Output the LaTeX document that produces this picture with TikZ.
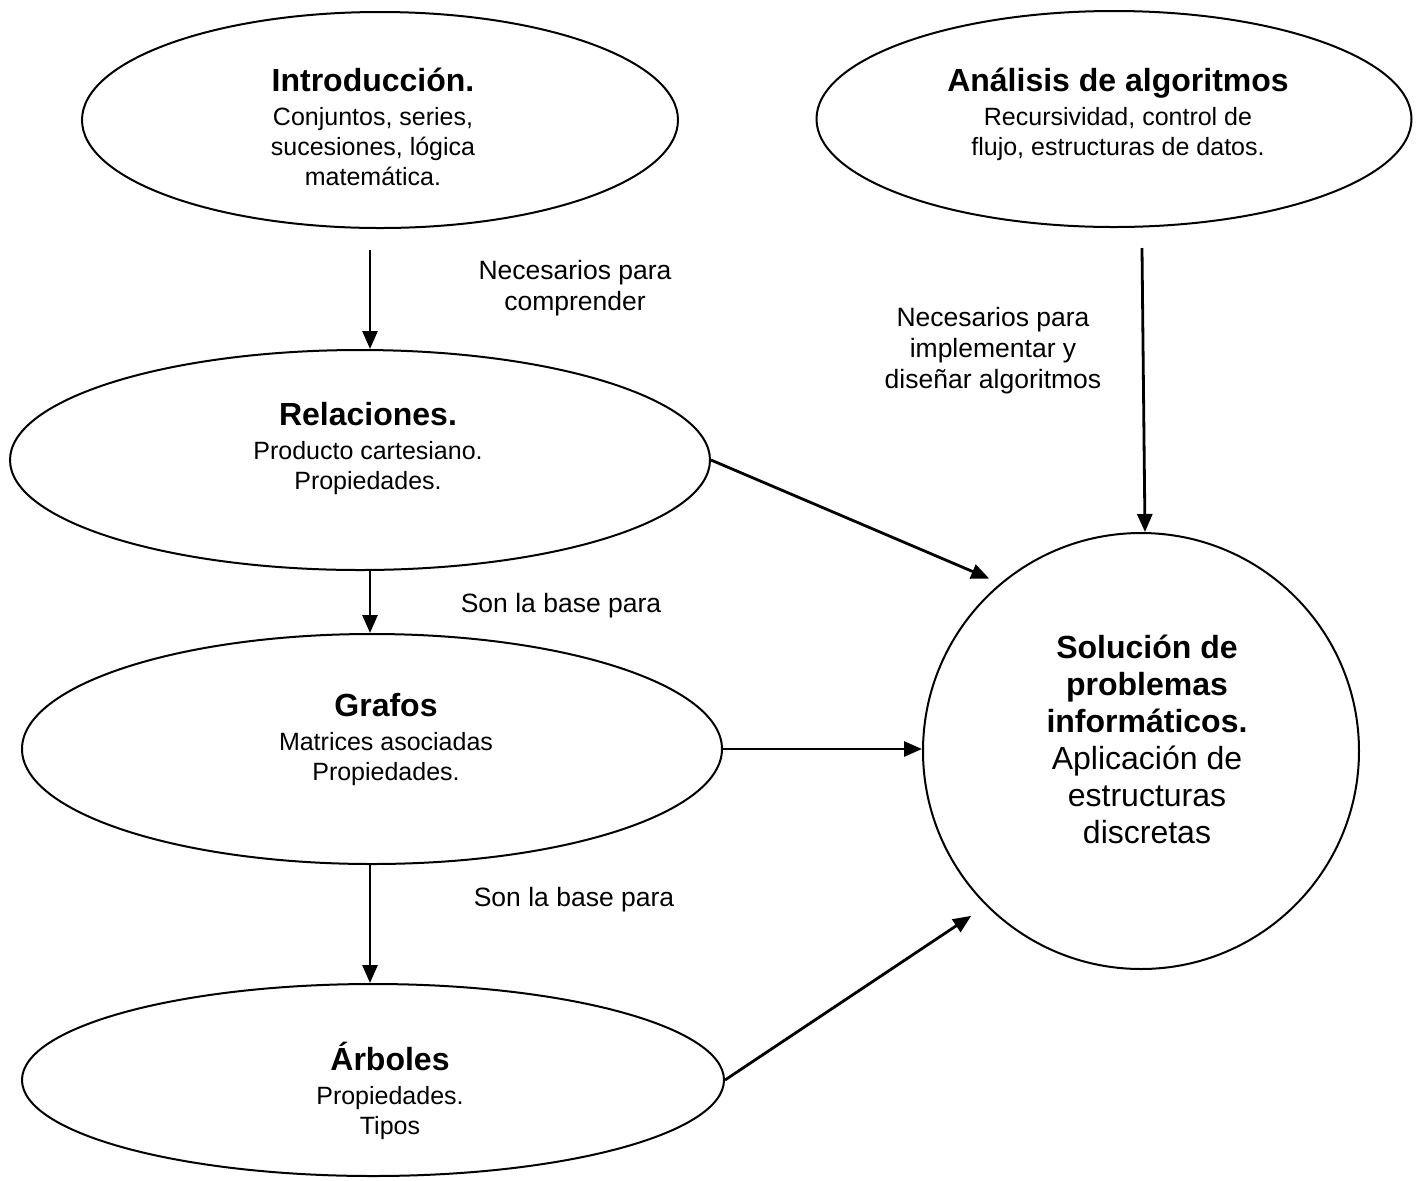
\documentclass[tikz,border=0pt]{standalone}
\usepackage{fontspec}
\setmainfont{Liberation Sans}
\usetikzlibrary{arrows.meta,shapes.geometric}
\newcommand\ttlfont[1]{{\fontsize{16pt}{18pt}\selectfont\bfseries #1}}
\begin{document}
\begin{tikzpicture}[x=0.5pt,y=-0.5pt,
  oval/.style={draw, line width=1pt, ellipse, inner sep=0pt},
  body/.style={align=center, inner sep=0pt, font=\fontsize{12.5pt}{15pt}\selectfont},
  lbl/.style={align=center, inner sep=0pt, font=\fontsize{13.25pt}{15.5pt}\selectfont},
  big/.style={align=center, inner sep=0pt, font=\fontsize{16pt}{18.5pt}\selectfont},
  arr/.style={line width=1.4pt, -{Triangle[length=9pt,width=7.5pt]}}]
\useasboundingbox (0,0) rectangle (1421,1180);

% shapes
\node[oval, minimum width=298pt, minimum height=108pt] (intro) at (380,120) {};
\node[oval, minimum width=297.5pt, minimum height=108pt] (ana) at (1114,119) {};
\node[oval, minimum width=350pt, minimum height=110pt] (rel) at (360,460) {};
\node[oval, minimum width=350pt, minimum height=115pt] (graf) at (372,749) {};
\node[oval, minimum width=351pt, minimum height=96pt] (arb) at (373,1080) {};
\node[draw, line width=1pt, circle, inner sep=0pt, minimum size=218pt] (sol) at (1141,751) {};

% texts
\node[body] (introt) at (373,127) {\ttlfont{Introducción.}\\[2pt]Conjuntos, series,\\sucesiones, lógica\\matemática.};
\node[body] (anat) at (1118,114) {\ttlfont{Análisis de algoritmos}\\[2pt]Recursividad, control de\\flujo, estructuras de datos.};
\node[body] (relt) at (368,448) {\ttlfont{Relaciones.}\\[2pt]Producto cartesiano.\\Propiedades.};
\node[body] (graft) at (386,739) {\ttlfont{Grafos}\\[2pt]Matrices asociadas\\Propiedades.};
\node[body] (arbt) at (390,1091) {\ttlfont{Árboles}\\[2pt]Propiedades.\\Tipos};
\node[big] (solt) at (1147,739) {\textbf{Solución de}\\\textbf{problemas}\\\textbf{informáticos.}\\Aplicación de\\estructuras\\discretas};

% labels
\node[lbl] (l1) at (575,288) {Necesarios para\\comprender};
\node[lbl] (l2) at (993,351) {Necesarios para\\implementar y\\diseñar algoritmos};
\node[lbl] (l3) at (561,606) {Son la base para};
\node[lbl] (l4) at (574,900) {Son la base para};

% connectors
\coordinate (i1) at (370,250);
\coordinate (a1) at (1142,248);
\draw[arr] (i1) -- (i1 |- rel.north);
\draw[arr] (rel.south -| i1) -- (graf.north -| i1);
\draw[arr] (graf.south -| i1) -- (arb.north -| i1);
\draw[arr] (a1) -- ([xshift=2pt]sol.north);
\draw[arr, shorten >=6pt] (rel.east) -- (sol.130);
\draw[arr] (graf.east) -- (graf.east -| sol.west);
\draw[arr, shorten >=9pt] (arb.east) -- (sol.225);
\end{tikzpicture}
\end{document}
